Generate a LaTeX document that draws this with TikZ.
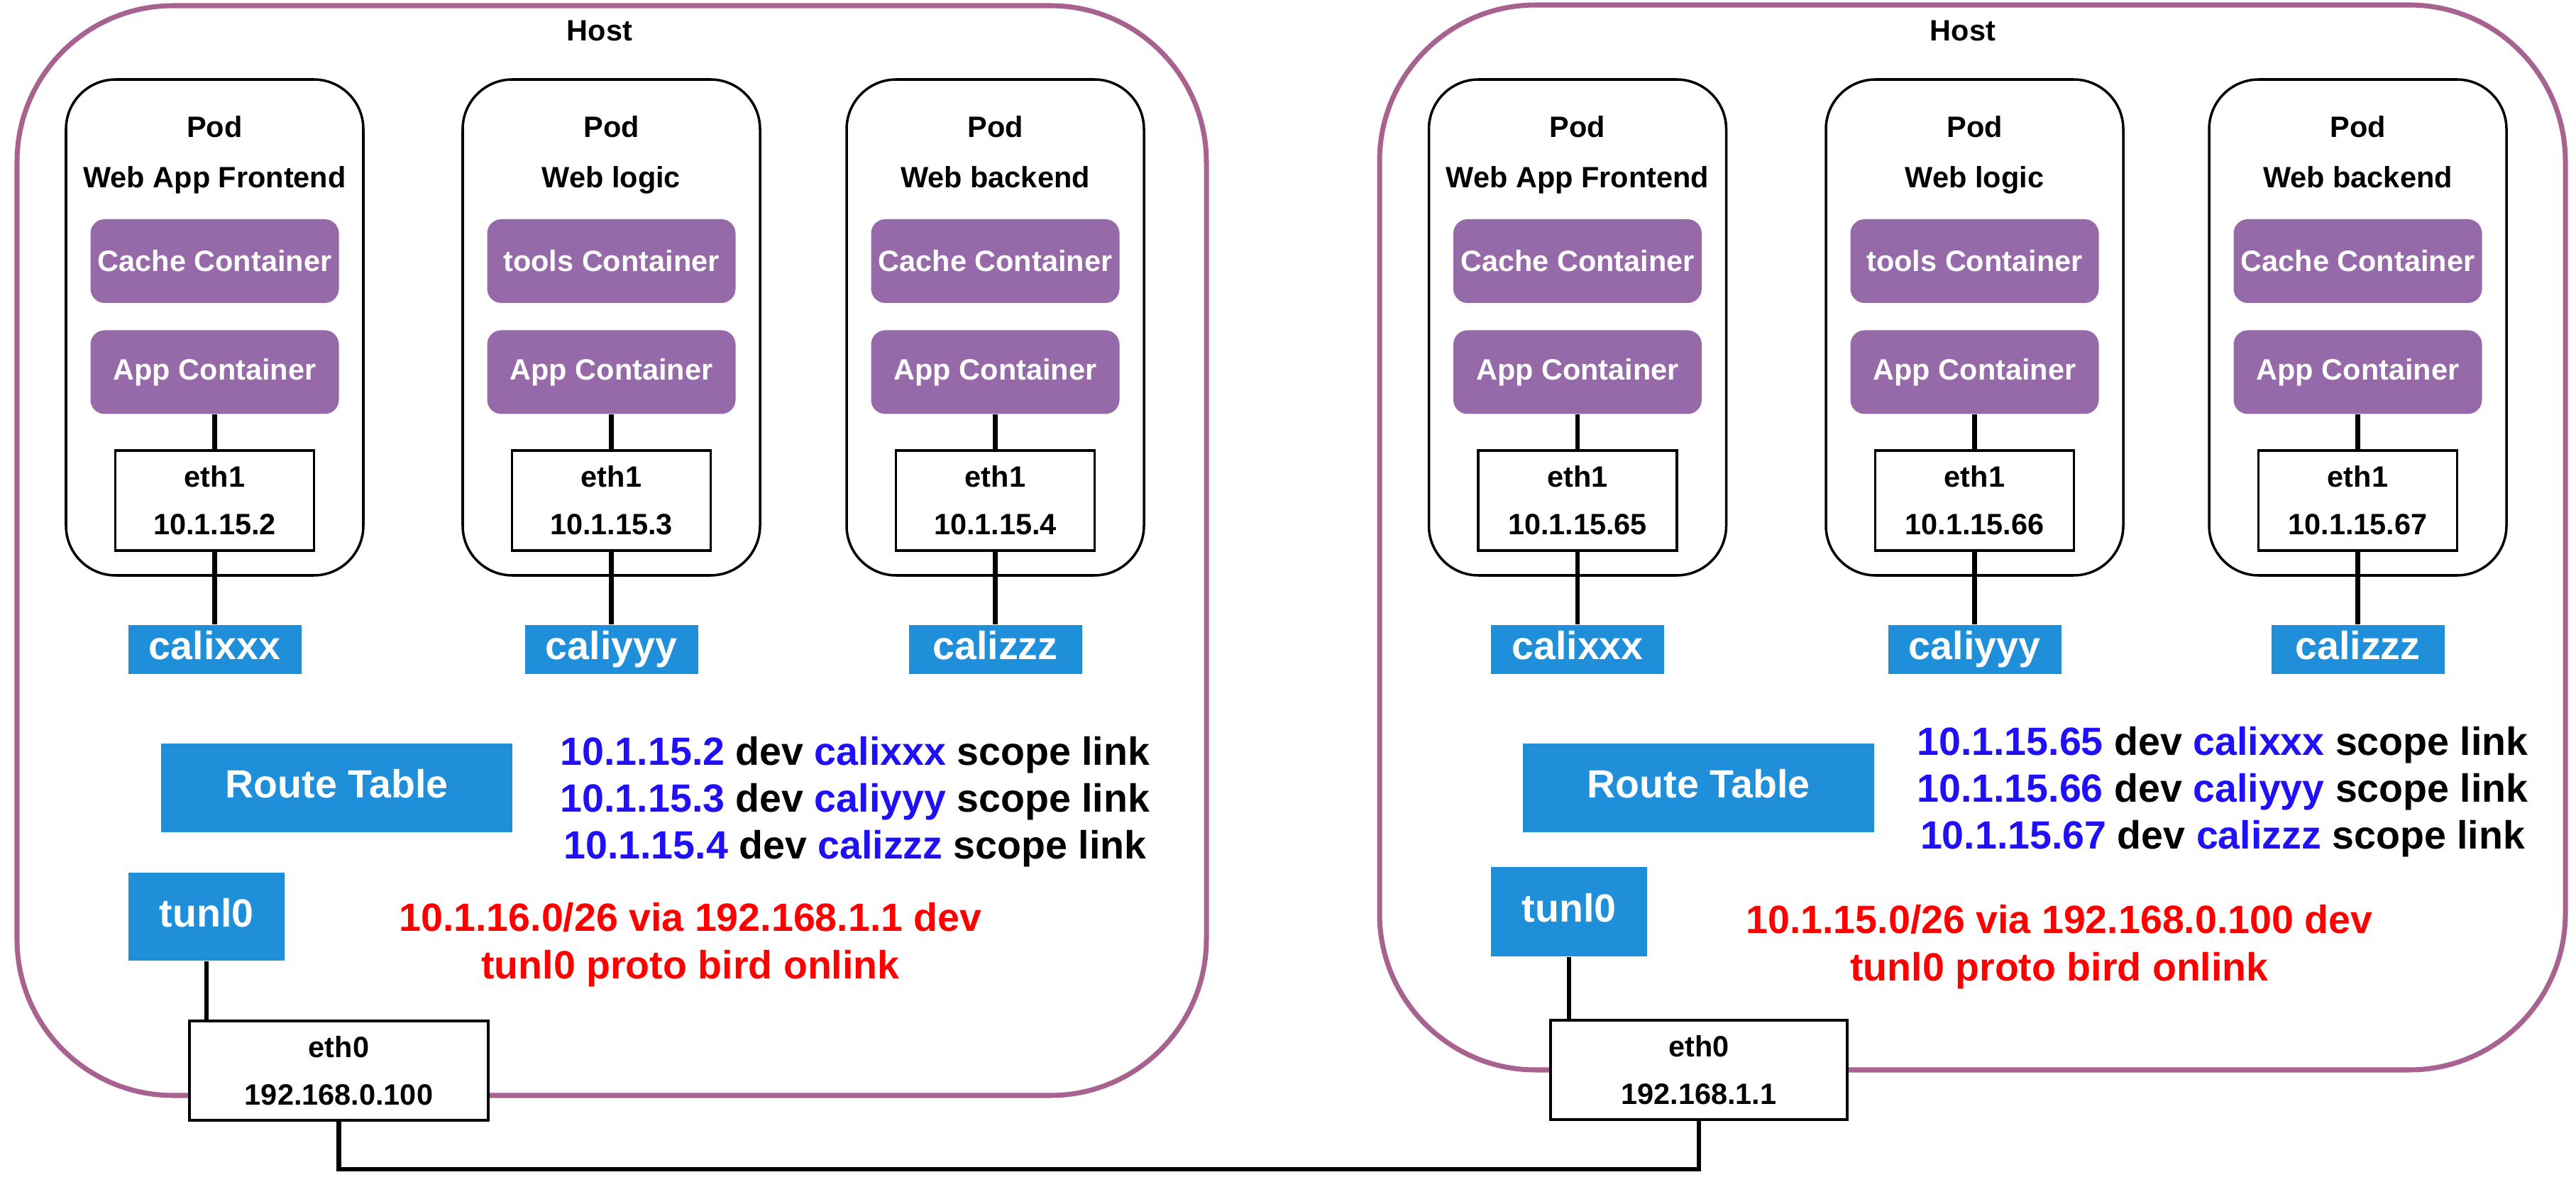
\documentclass[tikz,border=0pt]{standalone}
\usepackage{fontspec}
\setmainfont{Liberation Sans}
\usetikzlibrary{positioning}

\definecolor{hostPurple}{HTML}{A8628F}
\definecolor{contPurple}{HTML}{9669A8}
\definecolor{ifaceBlue}{HTML}{208FDA}
\definecolor{routeBlue}{HTML}{2010F5}
\definecolor{routeRed}{HTML}{FF0000}

\begin{document}
\begin{tikzpicture}[
  x=1cm,
  y=-1cm,
  font=\fontsize{11.8}{19}\selectfont\bfseries,
  big/.style={font=\fontsize{15.8}{18.7}\selectfont\bfseries},
  host/.style={draw=hostPurple, line width=2pt, rounded corners=2.2cm, inner sep=0pt},
  pod/.style={draw, line width=1pt, rounded corners=0.7cm, minimum width=4.19cm, minimum height=6.99cm, inner sep=0pt},
  podtitle/.style={align=center, font=\fontsize{11.8}{20.2}\selectfont\bfseries, text depth=2.6pt},
  cont/.style={fill=contPurple, text=white, rounded corners=0.2cm, minimum width=3.5cm, minimum height=1.18cm, inner sep=0pt},
  eth/.style={draw, fill=white, line width=1pt, align=center, minimum width=2.8cm, minimum height=1.41cm, inner sep=0pt},
  iface/.style={big, fill=ifaceBlue, text=white, inner sep=0pt, text height=0.4cm, text depth=0.12cm},
  routes/.style={big, align=center},
  note/.style={big, align=center, text=routeRed, font=\fontsize{15.8}{19}\selectfont\bfseries},
  link/.style={line width=1.8pt}
]

\useasboundingbox (0,0) rectangle (36.3,16.66);

% left host
\node[host, minimum width=16.76cm, minimum height=15.36cm] (hostL) at (8.62,7.76) {};
\node (hostLabelL) at (8.45,0.43) {Host};

\node[pod] (podL1) at (3.025,4.615) {};
\node[pod] (podL2) at (8.615,4.615) {};
\node[pod] (podL3) at (14.025,4.615) {};

\node[podtitle] (titleL1) at (3.025,2.185) {Pod\\Web App Frontend};
\node[podtitle] (titleL2) at (8.615,2.185) {Pod\\Web logic};
\node[podtitle] (titleL3) at (14.025,2.185) {Pod\\Web backend};

\node[cont] (cacheL1) at (3.025,3.68) {Cache Container};
\node[cont] (toolsL2) at (8.615,3.68) {tools Container};
\node[cont] (cacheL3) at (14.025,3.68) {Cache Container};
\node[cont] (appL1) at (3.025,5.245) {App Container};
\node[cont] (appL2) at (8.615,5.245) {App Container};
\node[cont] (appL3) at (14.025,5.245) {App Container};

\node[eth] (ethL1) at (3.025,7.055) {eth1\\10.1.15.2};
\node[eth] (ethL2) at (8.615,7.055) {eth1\\10.1.15.3};
\node[eth] (ethL3) at (14.025,7.055) {eth1\\10.1.15.4};

\node[iface, minimum width=2.44cm, minimum height=0.69cm] (caliL1) at (3.025,9.155) {calixxx};
\node[iface, minimum width=2.44cm, minimum height=0.69cm] (caliL2) at (8.615,9.155) {caliyyy};
\node[iface, minimum width=2.44cm, minimum height=0.69cm] (caliL3) at (14.025,9.155) {calizzz};

\node[iface, minimum width=4.95cm, minimum height=1.25cm] (routeL) at (4.745,11.105) {Route Table};
\node[routes] (routesL) at (12.05,11.3) {\textcolor{routeBlue}{10.1.15.2} dev \textcolor{routeBlue}{calixxx} scope link\\
  \textcolor{routeBlue}{10.1.15.3} dev \textcolor{routeBlue}{caliyyy} scope link\\
  \textcolor{routeBlue}{10.1.15.4} dev \textcolor{routeBlue}{calizzz} scope link};

\node[iface, minimum width=2.2cm, minimum height=1.24cm] (tunlL) at (2.91,12.92) {tunl0};
\node[note] (noteL) at (9.73,13.32) {10.1.16.0/26 via 192.168.1.1 dev\\tunl0 proto bird onlink};

\node[eth, minimum width=4.21cm, minimum height=1.40cm] (ethZeroL) at (4.775,15.09) {eth0\\192.168.0.100};

% right host
\node[host, minimum width=16.71cm, minimum height=15.01cm] (hostR) at (27.795,7.575) {};
\node (hostLabelR) at (27.66,0.43) {Host};

\node[pod] (podR1) at (22.23,4.615) {};
\node[pod] (podR2) at (27.825,4.615) {};
\node[pod] (podR3) at (33.225,4.615) {};

\node[podtitle] (titleR1) at (22.23,2.185) {Pod\\Web App Frontend};
\node[podtitle] (titleR2) at (27.825,2.185) {Pod\\Web logic};
\node[podtitle] (titleR3) at (33.225,2.185) {Pod\\Web backend};

\node[cont] (cacheR1) at (22.23,3.68) {Cache Container};
\node[cont] (toolsR2) at (27.825,3.68) {tools Container};
\node[cont] (cacheR3) at (33.225,3.68) {Cache Container};
\node[cont] (appR1) at (22.23,5.245) {App Container};
\node[cont] (appR2) at (27.825,5.245) {App Container};
\node[cont] (appR3) at (33.225,5.245) {App Container};

\node[eth] (ethR1) at (22.23,7.055) {eth1\\10.1.15.65};
\node[eth] (ethR2) at (27.825,7.055) {eth1\\10.1.15.66};
\node[eth] (ethR3) at (33.225,7.055) {eth1\\10.1.15.67};

\node[iface, minimum width=2.44cm, minimum height=0.69cm] (caliR1) at (22.23,9.155) {calixxx};
\node[iface, minimum width=2.44cm, minimum height=0.69cm] (caliR2) at (27.825,9.155) {caliyyy};
\node[iface, minimum width=2.44cm, minimum height=0.69cm] (caliR3) at (33.225,9.155) {calizzz};

\node[iface, minimum width=4.95cm, minimum height=1.25cm] (routeR) at (23.935,11.105) {Route Table};
\node[routes] (routesR) at (31.32,11.16) {\textcolor{routeBlue}{10.1.15.65} dev \textcolor{routeBlue}{calixxx} scope link\\
  \textcolor{routeBlue}{10.1.15.66} dev \textcolor{routeBlue}{caliyyy} scope link\\
  \textcolor{routeBlue}{10.1.15.67} dev \textcolor{routeBlue}{calizzz} scope link};

\node[iface, minimum width=2.2cm, minimum height=1.26cm] (tunlR) at (22.11,12.85) {tunl0};
\node[note] (noteR) at (29.02,13.35) {10.1.15.0/26 via 192.168.0.100 dev\\tunl0 proto bird onlink};

\node[eth, minimum width=4.18cm, minimum height=1.40cm] (ethZeroR) at (23.94,15.08) {eth0\\192.168.1.1};

% connectors
\draw[link] (appL1) -- (ethL1);
\draw[link] (appL2) -- (ethL2);
\draw[link] (appL3) -- (ethL3);
\draw[link] (ethL1) -- (caliL1);
\draw[link] (ethL2) -- (caliL2);
\draw[link] (ethL3) -- (caliL3);

\draw[link] (appR1) -- (ethR1);
\draw[link] (appR2) -- (ethR2);
\draw[link] (appR3) -- (ethR3);
\draw[link] (ethR1) -- (caliR1);
\draw[link] (ethR2) -- (caliR2);
\draw[link] (ethR3) -- (caliR3);

\draw[link] (tunlL.south) -- (tunlL.south |- ethZeroL.north);
\draw[link] (tunlR.south) -- (tunlR.south |- ethZeroR.north);

\coordinate (wire) at (0,16.48);
\draw[link] (ethZeroL.south) -- (ethZeroL.south |- wire) -| (ethZeroR.south);

\end{tikzpicture}
\end{document}
